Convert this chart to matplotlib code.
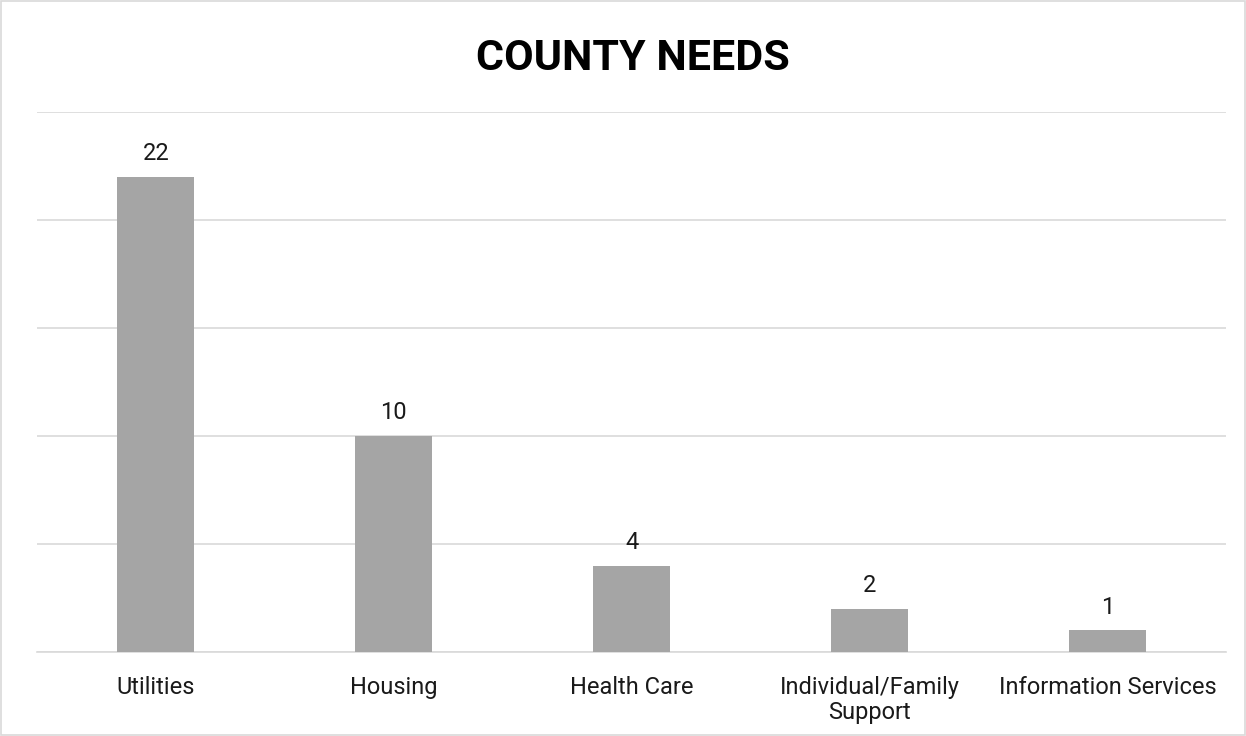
import matplotlib
matplotlib.use("Agg")
import matplotlib.pyplot as plt
from matplotlib.patches import Rectangle

categories = ["Utilities", "Housing", "Health Care", "Individual/Family\nSupport", "Information Services"]
values = [22, 10, 4, 2, 1]
yticks = [0, 5, 10, 15, 20, 25]

plt.rcParams["font.family"] = ["Roboto", "DejaVu Sans"]

fig = plt.figure(figsize=(12.46, 7.36), dpi=100)
ax = fig.add_axes([0.0297, 0.1141, 0.9546, 0.7337])

x = list(range(len(categories)))
ax.bar(x, values, width=0.324, color="#A5A5A5", zorder=3)
for xi, v in zip(x, values):
    ax.text(xi, v + 0.55, str(v), ha="center", va="bottom", fontsize=17, color="#1a1a1a")

ax.set_xlim(-0.5, len(categories) - 0.5)
ax.set_ylim(0, 25)
ax.set_yticks(yticks)
ax.yaxis.grid(True, color="#D9D9D9", linewidth=1.2, zorder=0)
ax.tick_params(axis="y", left=False, labelleft=False)
ax.tick_params(axis="x", bottom=False, labelsize=17, pad=14, colors="#1a1a1a")
ax.set_xticks(x)
ax.set_xticklabels(categories, linespacing=1.1, va="top")
for s in ["left", "right", "top"]:
    ax.spines[s].set_visible(False)
ax.spines["bottom"].set_color("#D9D9D9")
ax.spines["bottom"].set_linewidth(1.2)

fig.text(0.508, 0.92, "COUNTY NEEDS", ha="center", va="center", fontsize=31, fontweight="bold")
fig.patches.append(Rectangle((0.001, 0.001), 0.998, 0.998, transform=fig.transFigure,
                             fill=False, edgecolor="#D9D9D9", linewidth=1.2))

fig.savefig("out.png", dpi=100)
